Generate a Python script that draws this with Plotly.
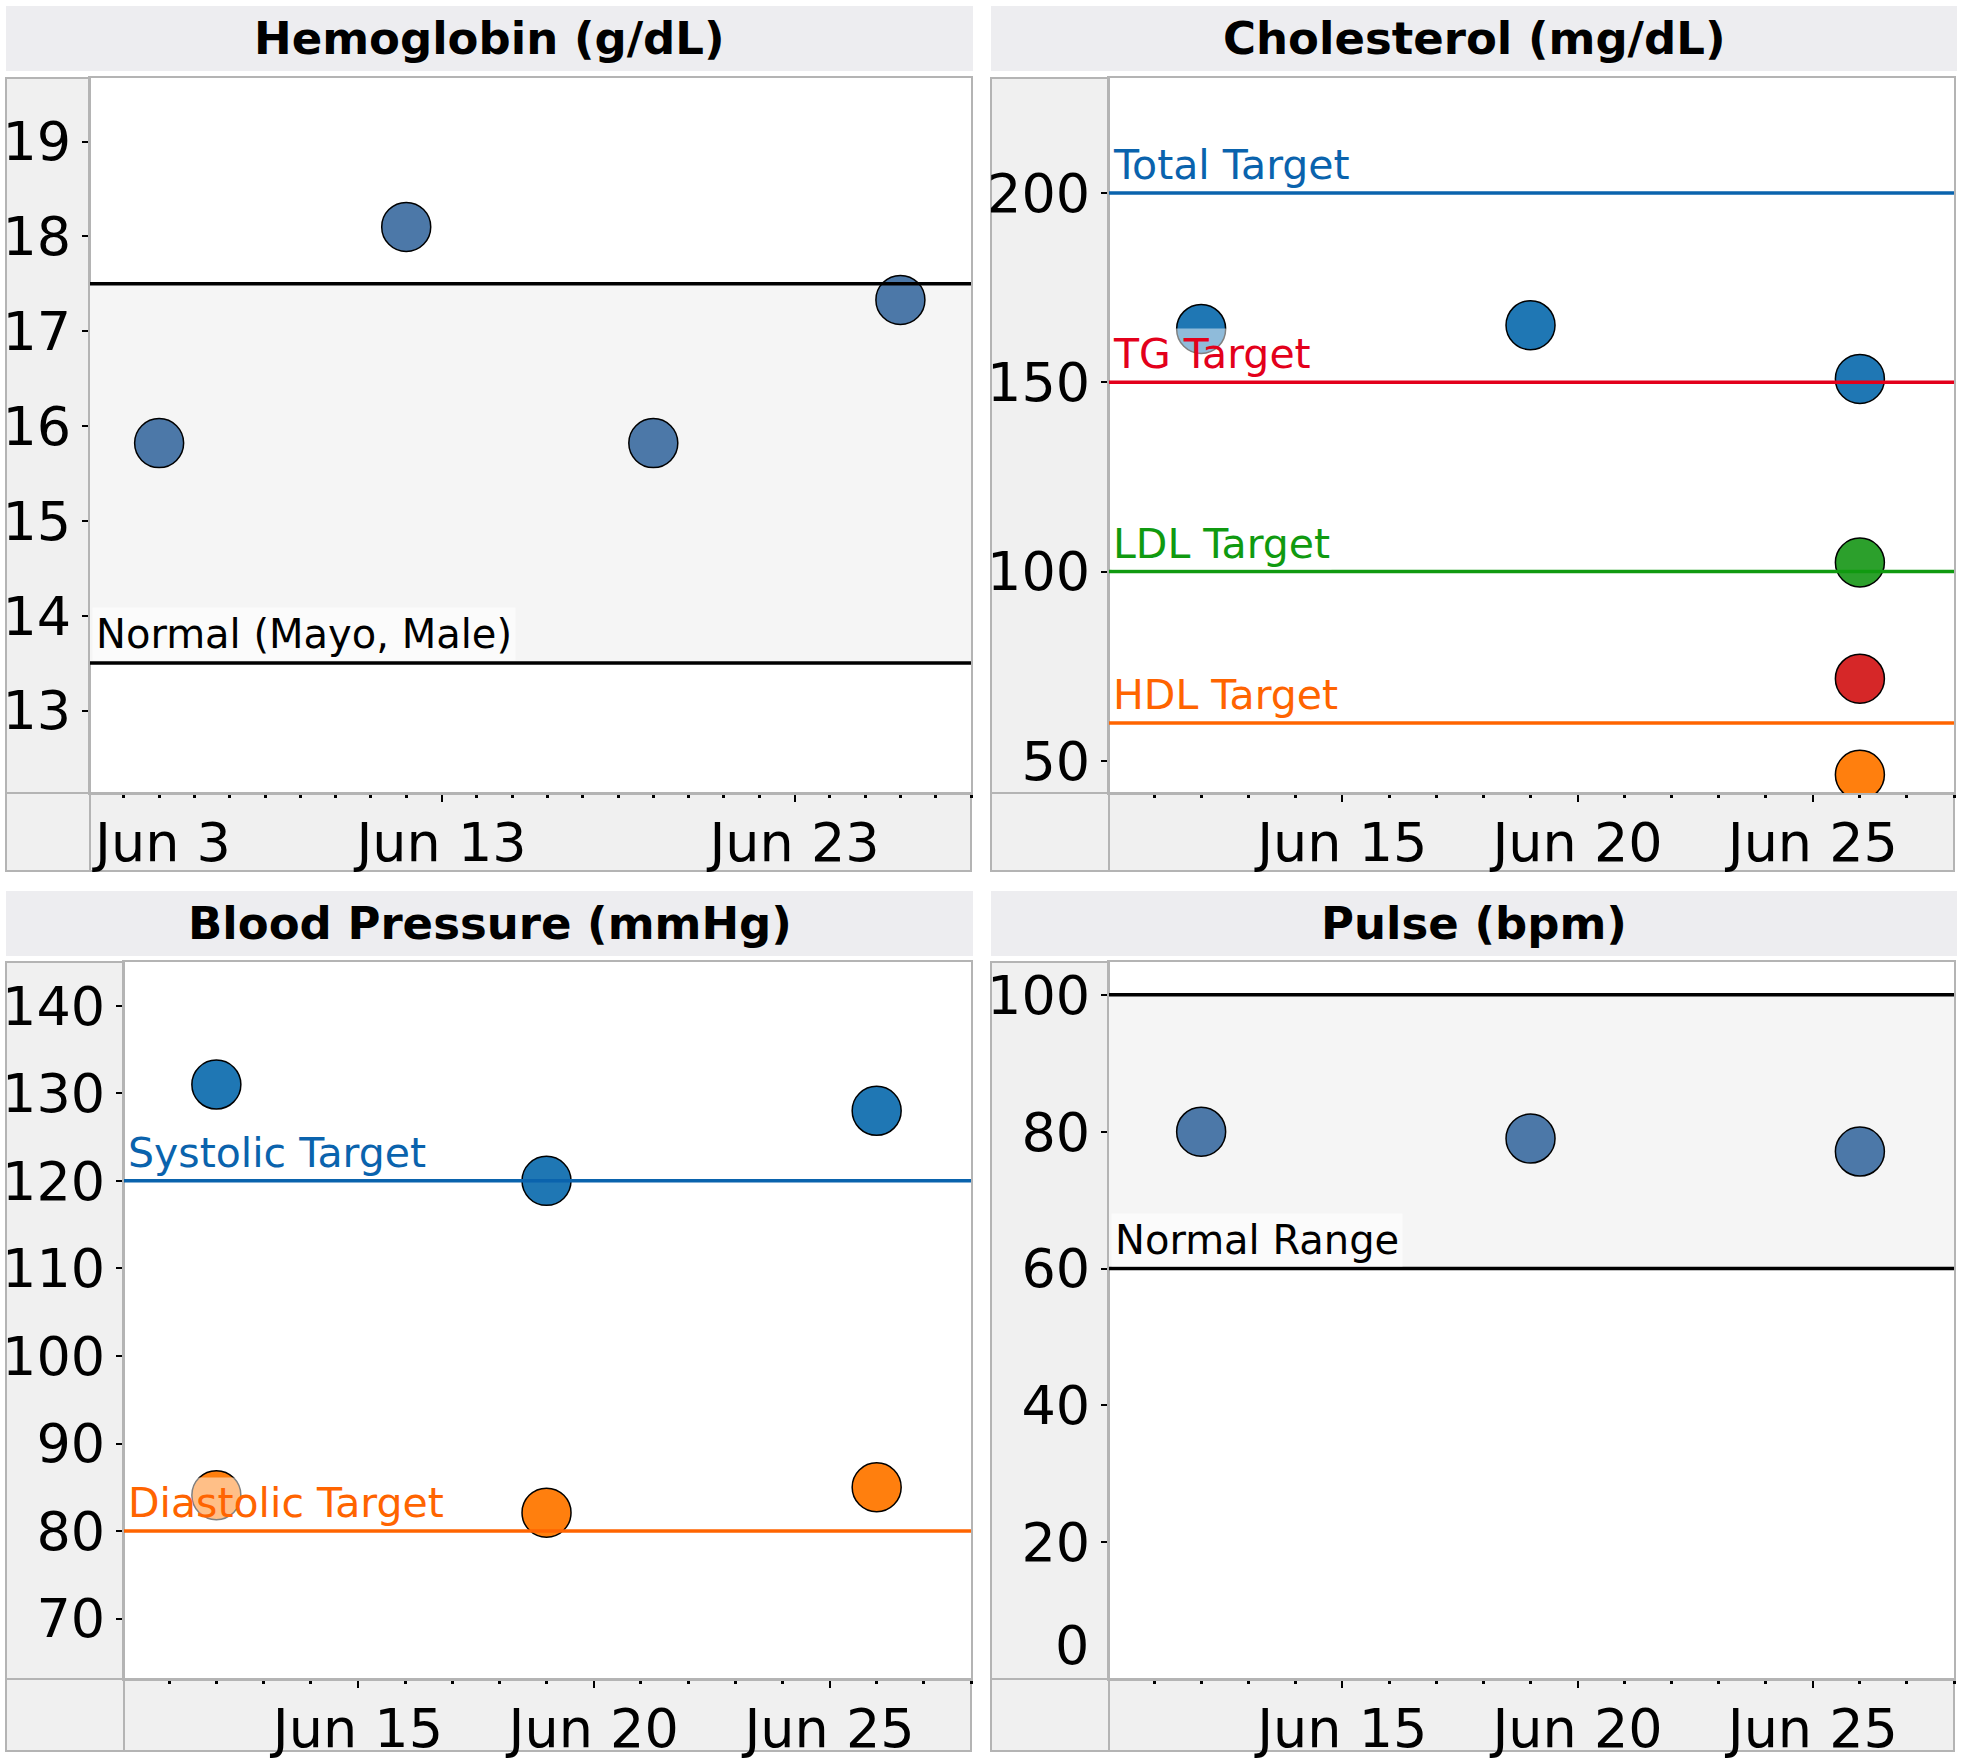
import plotly.graph_objects as go

W, H = 1964, 1760

# ---------------- data ----------------
hb_dates = ["2024-06-05", "2024-06-12", "2024-06-19", "2024-06-26"]
hb_values = [15.82, 18.1, 15.82, 17.33]
hb_normal = [13.5, 17.5]

chol_dates = ["2024-06-12", "2024-06-19", "2024-06-26"]
chol_total = [164.1, 165.1, 150.9]
chol_ldl_date = ["2024-06-26"]
chol_ldl = [102.4]
chol_tg = [71.7]
chol_hdl = [46.3]
chol_targets = {"Total Target": 200, "TG Target": 150, "LDL Target": 100, "HDL Target": 60}

bp_dates = ["2024-06-12", "2024-06-19", "2024-06-26"]
bp_systolic = [131, 120, 128]
bp_diastolic = [84.1, 82.1, 85]
bp_targets = {"Systolic Target": 120, "Diastolic Target": 80}

pulse_dates = ["2024-06-12", "2024-06-19", "2024-06-26"]
pulse_values = [80, 79, 77.1]
pulse_normal = [60, 100]

titles = ["Hemoglobin (g/dL)", "Cholesterol (mg/dL)", "Blood Pressure (mmHg)", "Pulse (bpm)"]
hb_first_tick_label = "Jun 3"
pulse_first_tick_label = "0"

# ---------------- style ----------------
FONT = "DejaVu Sans"
TICK_SIZE = 54
LABEL_SIZE = 40
TARGET_SIZE = 41
TITLE_SIZE = 45
C_BLUE_LINE = "#0a63ad"
C_RED_LINE = "#e3001b"
C_GREEN_LINE = "#109a10"
C_ORANGE_LINE = "#ff6400"
C_STEEL = "#4c78a8"
C_BLUE = "#1f77b4"
C_GREEN = "#2ca02c"
C_RED = "#d62728"
C_ORANGE = "#ff7f0e"
BORDER = "#b4b4b4"
STRIP = "#f0f0f0"
TITLE_BG = "#ededf0"
BAND = "#f5f5f5"

target_colors = {
    "Total Target": C_BLUE_LINE, "TG Target": C_RED_LINE,
    "LDL Target": C_GREEN_LINE, "HDL Target": C_ORANGE_LINE,
    "Systolic Target": C_BLUE_LINE, "Diastolic Target": C_ORANGE_LINE,
}

panels = [
    dict(pl=90, pr=971, pt=78, pb=793, sl=6, sr=973, tt=6, tb=71, xb=871),
    dict(pl=1109, pr=1954, pt=78, pb=793, sl=991, sr=1957, tt=6, tb=71, xb=871),
    dict(pl=124, pr=971, pt=962, pb=1679, sl=6, sr=973, tt=891, tb=956, xb=1751),
    dict(pl=1109, pr=1954, pt=962, pb=1679, sl=991, sr=1957, tt=891, tb=956, xb=1751),
]

def px(x):
    return x / W

def py(y):
    return 1 - y / H

fig = go.Figure()

marker_common = dict(size=49, line=dict(color="black", width=1.5))

fig.add_trace(go.Scatter(x=hb_dates, y=hb_values, mode="markers",
                         marker=dict(color=C_STEEL, **marker_common), xaxis="x", yaxis="y"))
fig.add_trace(go.Scatter(x=chol_dates, y=chol_total, mode="markers",
                         marker=dict(color=C_BLUE, **marker_common), xaxis="x2", yaxis="y2"))
fig.add_trace(go.Scatter(x=chol_ldl_date, y=chol_ldl, mode="markers",
                         marker=dict(color=C_GREEN, **marker_common), xaxis="x2", yaxis="y2"))
fig.add_trace(go.Scatter(x=chol_ldl_date, y=chol_tg, mode="markers",
                         marker=dict(color=C_RED, **marker_common), xaxis="x2", yaxis="y2"))
fig.add_trace(go.Scatter(x=chol_ldl_date, y=chol_hdl, mode="markers",
                         marker=dict(color=C_ORANGE, **marker_common), xaxis="x2", yaxis="y2"))
fig.add_trace(go.Scatter(x=bp_dates, y=bp_systolic, mode="markers",
                         marker=dict(color=C_BLUE, **marker_common), xaxis="x3", yaxis="y3"))
fig.add_trace(go.Scatter(x=bp_dates, y=bp_diastolic, mode="markers",
                         marker=dict(color=C_ORANGE, **marker_common), xaxis="x3", yaxis="y3"))
fig.add_trace(go.Scatter(x=pulse_dates, y=pulse_values, mode="markers",
                         marker=dict(color=C_STEEL, **marker_common), xaxis="x4", yaxis="y4"))

DAY = 86400000
xcfg = [
    dict(range=["2024-06-03 01:00", "2024-06-28"], tick0="2024-06-03", dtick=10 * DAY),
    dict(range=["2024-06-10 01:00", "2024-06-28"], tick0="2024-06-15", dtick=5 * DAY),
    dict(range=["2024-06-10 01:00", "2024-06-28"], tick0="2024-06-15", dtick=5 * DAY),
    dict(range=["2024-06-10 01:00", "2024-06-28"], tick0="2024-06-15", dtick=5 * DAY),
]
ycfg = [
    dict(range=[12.13, 19.67], dtick=1),
    dict(range=[41.5, 230.4], dtick=50),
    dict(range=[63.1, 145.0], dtick=10),
    dict(range=[0.02, 104.8], dtick=20),
]

layout = dict(
    width=W, height=H, margin=dict(l=0, r=0, t=0, b=0, autoexpand=False),
    paper_bgcolor="white", plot_bgcolor="white", showlegend=False,
    font=dict(family=FONT, color="black"), hovermode=False,
)

shapes = []
annotations = []
for i, p in enumerate(panels):
    n = "" if i == 0 else str(i + 1)
    layout["xaxis" + n] = dict(
        type="date", domain=[px(p["pl"]), px(p["pr"])], anchor="y" + n, automargin=False,
        range=xcfg[i]["range"], tick0=xcfg[i]["tick0"], dtick=xcfg[i]["dtick"],
        tickformat="%b %-d", ticks="outside", ticklen=7, tickwidth=2, tickcolor="black",
        ticklabelstandoff=-6,
        minor=dict(dtick=DAY, tick0="2024-06-01", ticks="outside", ticklen=3, tickwidth=3,
                   tickcolor="black", showgrid=False),
        showgrid=False, zeroline=False, showline=True, mirror=True, linecolor=BORDER, linewidth=2,
        tickfont=dict(size=TICK_SIZE, family=FONT, color="black"),
    )
    layout["yaxis" + n] = dict(
        domain=[py(p["pb"]), py(p["pt"])], anchor="x" + n, automargin=False,
        range=ycfg[i]["range"], dtick=ycfg[i]["dtick"],
        ticks="outside", ticklen=6, tickwidth=2, tickcolor="black",
        showgrid=False, zeroline=False, showline=True, mirror=True, linecolor=BORDER, linewidth=2,
        tickfont=dict(size=TICK_SIZE, family=FONT, color="black"),
    )
    shapes.append(dict(type="rect", xref="paper", yref="paper", layer="below",
                       x0=px(p["sl"]), x1=px(p["sr"]), y0=py(p["tb"]), y1=py(p["tt"]),
                       fillcolor=TITLE_BG, line=dict(width=0)))
    annotations.append(dict(xref="paper", yref="paper", x=px((p["sl"] + p["sr"]) / 2),
                            y=py((p["tt"] + p["tb"]) / 2), xanchor="center", yanchor="middle",
                            text="<b>" + titles[i] + "</b>", showarrow=False,
                            font=dict(size=TITLE_SIZE, family=FONT, color="black")))
    for (x0, x1, y0, y1) in [
        (p["sl"], p["pl"], p["pt"], p["pb"]),
        (p["sl"], p["pl"], p["pb"], p["xb"]),
        (p["pl"], p["pr"], p["pb"], p["xb"]),
    ]:
        shapes.append(dict(type="rect", xref="paper", yref="paper", layer="below",
                           x0=px(x0), x1=px(x1), y0=py(y1), y1=py(y0),
                           fillcolor=STRIP, line=dict(color=BORDER, width=2)))

# edge tick labels that are nudged inside the axis extent (as in the reference)
annotations.append(dict(xref="x domain", yref="paper", x=0, y=py(842), xanchor="left",
                        yanchor="middle", xshift=0, text=hb_first_tick_label, showarrow=False,
                        font=dict(size=TICK_SIZE, family=FONT, color="black")))
annotations.append(dict(xref="paper", yref="y4", x=px(panels[3]["pl"] - 18), y=0.02,
                        xanchor="right", yanchor="bottom", text=pulse_first_tick_label,
                        showarrow=False, font=dict(size=TICK_SIZE, family=FONT, color="black")))

def add_band(n, lo, hi, label):
    xr = "x" + n + " domain"
    yr = "y" + n
    shapes.append(dict(type="rect", xref=xr, yref=yr, x0=0, x1=1, y0=lo, y1=hi,
                       fillcolor=BAND, line=dict(width=0), layer="below"))
    for v in (lo, hi):
        shapes.append(dict(type="line", xref=xr, yref=yr, x0=0, x1=1, y0=v, y1=v,
                           line=dict(color="black", width=3.5), layer="above"))
    annotations.append(dict(xref=xr, yref=yr, x=0, y=lo, xanchor="left", yanchor="bottom",
                            yshift=2, xshift=2, text=label, showarrow=False, align="left",
                            bgcolor="rgba(255,255,255,0.6)", borderpad=3,
                            font=dict(size=LABEL_SIZE, family=FONT, color="black")))

def add_target(n, name, v):
    xr = "x" + n + " domain"
    yr = "y" + n
    col = target_colors[name]
    shapes.append(dict(type="line", xref=xr, yref=yr, x0=0, x1=1, y0=v, y1=v,
                       line=dict(color=col, width=3.5), layer="above"))
    annotations.append(dict(xref=xr, yref=yr, x=0, y=v, xanchor="left", yanchor="bottom",
                            yshift=2, xshift=2, text=name, showarrow=False, align="left",
                            bgcolor="rgba(255,255,255,0.5)", borderpad=1,
                            font=dict(size=TARGET_SIZE, family=FONT, color=col)))

add_band("", hb_normal[0], hb_normal[1], "Normal (Mayo, Male)")
for name, v in chol_targets.items():
    add_target("2", name, v)
for name, v in bp_targets.items():
    add_target("3", name, v)
add_band("4", pulse_normal[0], pulse_normal[1], "Normal Range")

layout["shapes"] = shapes
layout["annotations"] = annotations
fig.update_layout(**layout)

fig.write_html(
    "out.html",
    config={"displayModeBar": False},
    post_script="document.body.style.margin='0';document.body.style.padding='0';document.body.style.overflow='hidden';",
)
